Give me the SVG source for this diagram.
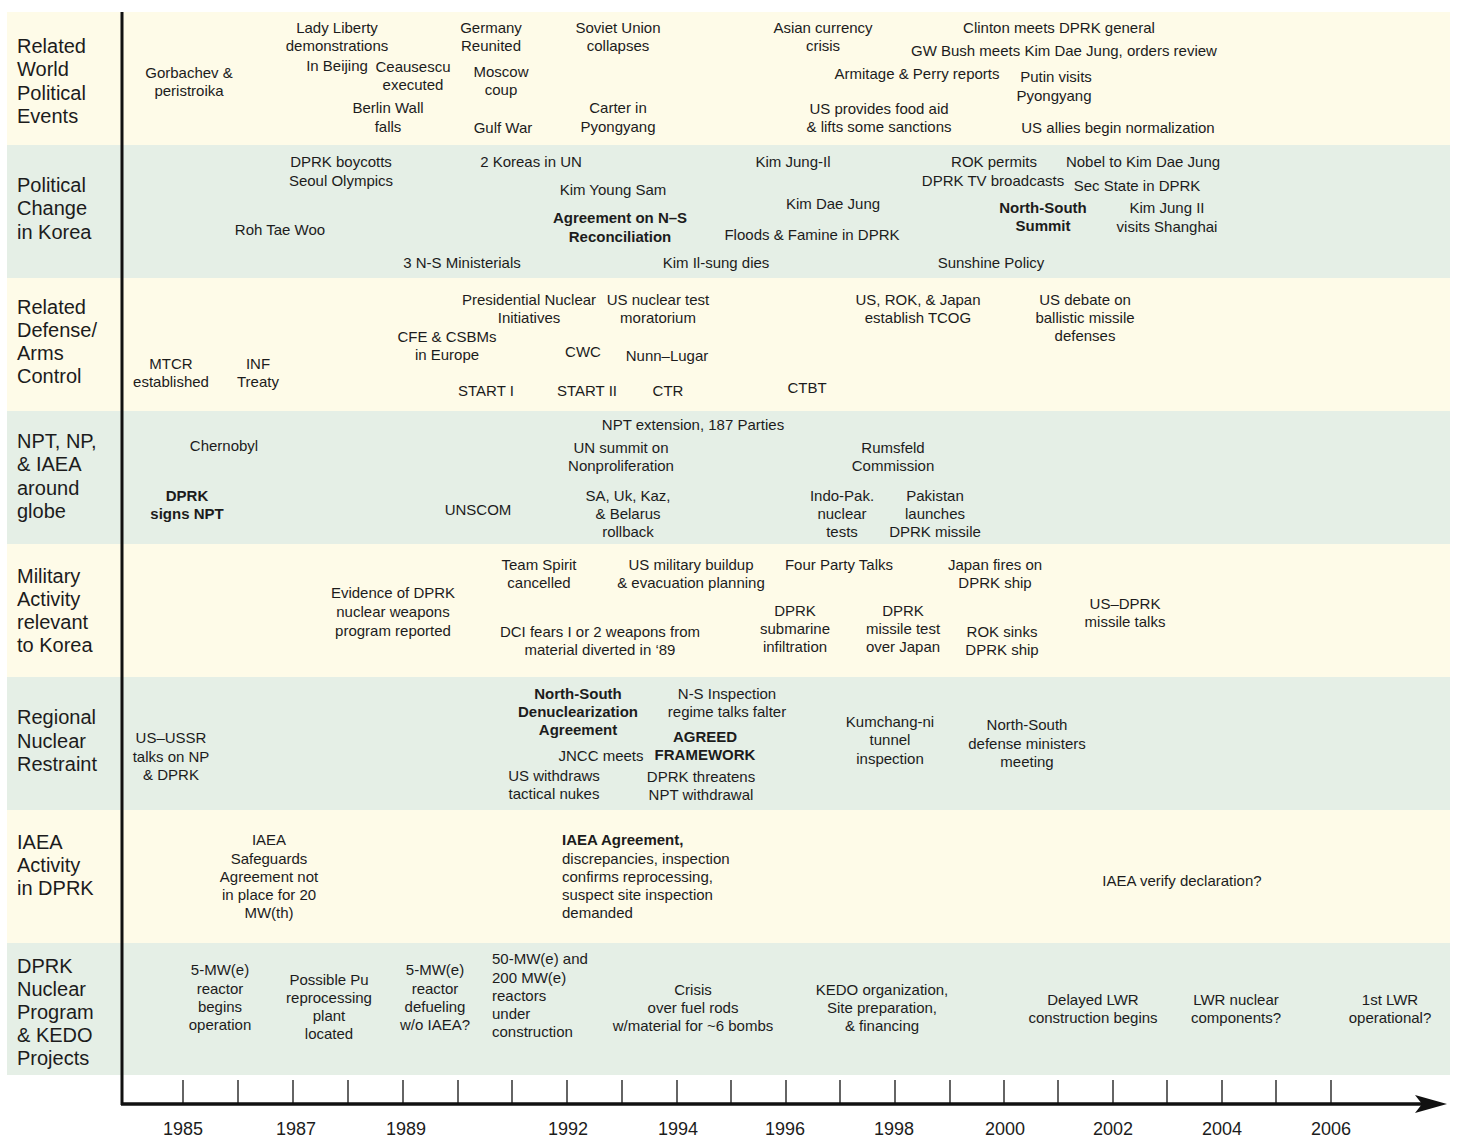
<svg xmlns="http://www.w3.org/2000/svg" width="1457" height="1137" viewBox="0 0 1457 1137">
<style>
text{font-family:"Liberation Sans",Arial,sans-serif;fill:#1c1c1c;}
.t{font-size:15px;text-anchor:middle;}
.l{font-size:15px;text-anchor:start;}
.b{font-weight:bold;}
.h{font-size:20px;text-anchor:start;}
.y{fill:#FEFBE8;}
.g{fill:#E5EFE6;}
.yr{font-size:18px;text-anchor:middle;}
</style>
<rect width="1457" height="1137" fill="#fff"/>
<g id="bands">
<rect class="y" x="7" y="12" width="1443" height="133"/>
<rect class="g" x="7" y="145" width="1443" height="133"/>
<rect class="y" x="7" y="278" width="1443" height="133"/>
<rect class="g" x="7" y="411" width="1443" height="133"/>
<rect class="y" x="7" y="544" width="1443" height="133"/>
<rect class="g" x="7" y="677" width="1443" height="133"/>
<rect class="y" x="7" y="810" width="1443" height="133"/>
<rect class="g" x="7" y="943" width="1443" height="132"/>
</g>
<g id="row-labels">
<text class="h"><tspan x="17" y="53">Related</tspan><tspan x="17" y="76">World</tspan><tspan x="17" y="100">Political</tspan><tspan x="17" y="123">Events</tspan></text>
<text class="h"><tspan x="17" y="192">Political</tspan><tspan x="17" y="215">Change</tspan><tspan x="17" y="239">in Korea</tspan></text>
<text class="h"><tspan x="17" y="314">Related</tspan><tspan x="17" y="337">Defense/</tspan><tspan x="17" y="360">Arms</tspan><tspan x="17" y="383">Control</tspan></text>
<text class="h"><tspan x="17" y="448">NPT, NP,</tspan><tspan x="17" y="471">&amp; IAEA</tspan><tspan x="17" y="495">around</tspan><tspan x="17" y="518">globe</tspan></text>
<text class="h"><tspan x="17" y="583">Military</tspan><tspan x="17" y="606">Activity</tspan><tspan x="17" y="629">relevant</tspan><tspan x="17" y="652">to Korea</tspan></text>
<text class="h"><tspan x="17" y="724">Regional</tspan><tspan x="17" y="748">Nuclear</tspan><tspan x="17" y="771">Restraint</tspan></text>
<text class="h"><tspan x="17" y="849">IAEA</tspan><tspan x="17" y="872">Activity</tspan><tspan x="17" y="895">in DPRK</tspan></text>
<text class="h"><tspan x="17" y="973">DPRK</tspan><tspan x="17" y="996">Nuclear</tspan><tspan x="17" y="1019">Program</tspan><tspan x="17" y="1042">&amp; KEDO</tspan><tspan x="17" y="1065">Projects</tspan></text>
</g>
<g id="world-events">
<g id="e-gorbachev"><text class="t"><tspan x="189" y="78">Gorbachev &amp;</tspan><tspan x="189" y="96">peristroika</tspan></text></g>
<g id="e-ladyliberty"><text class="t"><tspan x="337" y="33">Lady Liberty</tspan><tspan x="337" y="51">demonstrations</tspan><tspan x="337" y="71">In Beijing</tspan></text></g>
<g id="e-ceausescu"><text class="t"><tspan x="413" y="72">Ceausescu</tspan><tspan x="413" y="90">executed</tspan></text></g>
<g id="e-berlin"><text class="t"><tspan x="388" y="113">Berlin Wall</tspan><tspan x="388" y="132">falls</tspan></text></g>
<g id="e-germany"><text class="t"><tspan x="491" y="33">Germany</tspan><tspan x="491" y="51">Reunited</tspan></text></g>
<g id="e-moscow"><text class="t"><tspan x="501" y="77">Moscow</tspan><tspan x="501" y="95">coup</tspan></text></g>
<g id="e-gulf"><text class="t" x="503" y="133">Gulf War</text></g>
<g id="e-soviet"><text class="t"><tspan x="618" y="33">Soviet Union</tspan><tspan x="618" y="51">collapses</tspan></text></g>
<g id="e-carter"><text class="t"><tspan x="618" y="113">Carter in</tspan><tspan x="618" y="132">Pyongyang</tspan></text></g>
<g id="e-asian"><text class="t"><tspan x="823" y="33">Asian currency</tspan><tspan x="823" y="51">crisis</tspan></text></g>
<g id="e-armitage"><text class="t" x="917" y="79">Armitage &amp; Perry reports</text></g>
<g id="e-foodaid"><text class="t"><tspan x="879" y="114">US provides food aid</tspan><tspan x="879" y="132">&amp; lifts some sanctions</tspan></text></g>
<g id="e-clinton"><text class="t" x="1059" y="33">Clinton meets DPRK general</text></g>
<g id="e-gwbush"><text class="t" x="1064" y="56">GW Bush meets Kim Dae Jung, orders review</text></g>
<g id="e-putin"><text class="t"><tspan x="1056" y="82">Putin visits</tspan><tspan x="1054" y="101">Pyongyang</tspan></text></g>
<g id="e-allies"><text class="t" x="1118" y="133">US allies begin normalization</text></g>
</g>
<g id="korea-politics">
<g id="k-boycott"><text class="t"><tspan x="341" y="167">DPRK boycotts</tspan><tspan x="341" y="186">Seoul Olympics</tspan></text></g>
<g id="k-roh"><text class="t" x="280" y="235">Roh Tae Woo</text></g>
<g id="k-ministerials"><text class="t" x="462" y="268">3 N-S Ministerials</text></g>
<g id="k-un"><text class="t" x="531" y="167">2 Koreas in UN</text></g>
<g id="k-kys"><text class="t" x="613" y="195">Kim Young Sam</text></g>
<g id="k-reconciliation"><text class="t b"><tspan x="620" y="223">Agreement on N–S</tspan><tspan x="620" y="242">Reconciliation</tspan></text></g>
<g id="k-kis"><text class="t" x="716" y="268">Kim Il-sung dies</text></g>
<g id="k-kji"><text class="t" x="793" y="167">Kim Jung-Il</text></g>
<g id="k-kdj"><text class="t" x="833" y="209">Kim Dae Jung</text></g>
<g id="k-floods"><text class="t" x="812" y="240">Floods &amp; Famine in DPRK</text></g>
<g id="k-rok"><text class="t"><tspan x="994" y="167">ROK permits</tspan><tspan x="993" y="186">DPRK TV broadcasts</tspan></text></g>
<g id="k-summit"><text class="t b"><tspan x="1043" y="213">North-South</tspan><tspan x="1043" y="231">Summit</tspan></text></g>
<g id="k-sunshine"><text class="t" x="991" y="268">Sunshine Policy</text></g>
<g id="k-nobel"><text class="t" x="1143" y="167">Nobel to Kim Dae Jung</text></g>
<g id="k-secstate"><text class="t" x="1137" y="191">Sec State in DPRK</text></g>
<g id="k-shanghai"><text class="t"><tspan x="1167" y="213">Kim Jung II</tspan><tspan x="1167" y="232">visits Shanghai</tspan></text></g>
</g>
<g id="arms-control">
<g id="a-mtcr"><text class="t"><tspan x="171" y="369">MTCR</tspan><tspan x="171" y="387">established</tspan></text></g>
<g id="a-inf"><text class="t"><tspan x="258" y="369">INF</tspan><tspan x="258" y="387">Treaty</tspan></text></g>
<g id="a-cfe"><text class="t"><tspan x="447" y="342">CFE &amp;  CSBMs</tspan><tspan x="447" y="360">in Europe</tspan></text></g>
<g id="a-pni"><text class="t"><tspan x="529" y="305">Presidential Nuclear</tspan><tspan x="529" y="323">Initiatives</tspan></text></g>
<g id="a-moratorium"><text class="t"><tspan x="658" y="305">US nuclear test</tspan><tspan x="658" y="323">moratorium</tspan></text></g>
<g id="a-cwc"><text class="t" x="583" y="357">CWC</text></g>
<g id="a-nunn"><text class="t" x="667" y="361">Nunn–Lugar</text></g>
<g id="a-start1"><text class="t" x="486" y="396">START I</text></g>
<g id="a-start2"><text class="t" x="587" y="396">START II</text></g>
<g id="a-ctr"><text class="t" x="668" y="396">CTR</text></g>
<g id="a-ctbt"><text class="t" x="807" y="393">CTBT</text></g>
<g id="a-tcog"><text class="t"><tspan x="918" y="305">US, ROK, &amp; Japan</tspan><tspan x="918" y="323">establish TCOG</tspan></text></g>
<g id="a-bmd"><text class="t"><tspan x="1085" y="305">US debate on</tspan><tspan x="1085" y="323">ballistic missile</tspan><tspan x="1085" y="341">defenses</tspan></text></g>
</g>
<g id="npt">
<g id="n-chernobyl"><text class="t" x="224" y="451">Chernobyl</text></g>
<g id="n-signs"><text class="t b"><tspan x="187" y="501">DPRK</tspan><tspan x="187" y="519">signs NPT</tspan></text></g>
<g id="n-unscom"><text class="t" x="478" y="515">UNSCOM</text></g>
<g id="n-extension"><text class="t" x="693" y="430">NPT extension, 187 Parties</text></g>
<g id="n-summit"><text class="t"><tspan x="621" y="453">UN summit on</tspan><tspan x="621" y="471">Nonproliferation</tspan></text></g>
<g id="n-rollback"><text class="t"><tspan x="628" y="501">SA, Uk, Kaz,</tspan><tspan x="628" y="519">&amp;  Belarus</tspan><tspan x="628" y="537">rollback</tspan></text></g>
<g id="n-rumsfeld"><text class="t"><tspan x="893" y="453">Rumsfeld</tspan><tspan x="893" y="471">Commission</tspan></text></g>
<g id="n-indopak"><text class="t"><tspan x="842" y="501">Indo-Pak.</tspan><tspan x="842" y="519">nuclear</tspan><tspan x="842" y="537">tests</tspan></text></g>
<g id="n-pakistan"><text class="t"><tspan x="935" y="501">Pakistan</tspan><tspan x="935" y="519">launches</tspan><tspan x="935" y="537">DPRK missile</tspan></text></g>
</g>
<g id="military">
<g id="m-evidence"><text class="t"><tspan x="393" y="598">Evidence of DPRK</tspan><tspan x="393" y="617">nuclear weapons</tspan><tspan x="393" y="636">program reported</tspan></text></g>
<g id="m-teamspirit"><text class="t"><tspan x="539" y="570">Team Spirit</tspan><tspan x="539" y="588">cancelled</tspan></text></g>
<g id="m-buildup"><text class="t"><tspan x="691" y="570">US military buildup</tspan><tspan x="691" y="588">&amp; evacuation planning</tspan></text></g>
<g id="m-fourparty"><text class="t" x="839" y="570">Four Party Talks</text></g>
<g id="m-japanfires"><text class="t"><tspan x="995" y="570">Japan fires on</tspan><tspan x="995" y="588">DPRK ship</tspan></text></g>
<g id="m-dci"><text class="t"><tspan x="600" y="637">DCI fears I or 2 weapons from</tspan><tspan x="600" y="655">material diverted in ‘89</tspan></text></g>
<g id="m-submarine"><text class="t"><tspan x="795" y="616">DPRK</tspan><tspan x="795" y="634">submarine</tspan><tspan x="795" y="652">infiltration</tspan></text></g>
<g id="m-missiletest"><text class="t"><tspan x="903" y="616">DPRK</tspan><tspan x="903" y="634">missile test</tspan><tspan x="903" y="652">over Japan</tspan></text></g>
<g id="m-roksinks"><text class="t"><tspan x="1002" y="637">ROK sinks</tspan><tspan x="1002" y="655">DPRK ship</tspan></text></g>
<g id="m-missiletalks"><text class="t"><tspan x="1125" y="609">US–DPRK</tspan><tspan x="1125" y="627">missile talks</tspan></text></g>
</g>
<g id="restraint">
<g id="r-usussr"><text class="t"><tspan x="171" y="743">US–USSR</tspan><tspan x="171" y="762">talks on NP</tspan><tspan x="171" y="780">&amp; DPRK</tspan></text></g>
<g id="r-denuc"><text class="t b"><tspan x="578" y="699">North-South</tspan><tspan x="578" y="717">Denuclearization</tspan><tspan x="578" y="735">Agreement</tspan></text></g>
<g id="r-inspection"><text class="t"><tspan x="727" y="699">N-S Inspection</tspan><tspan x="727" y="717">regime talks falter</tspan></text></g>
<g id="r-agreed"><text class="t b"><tspan x="705" y="742">AGREED</tspan><tspan x="705" y="760">FRAMEWORK</tspan></text></g>
<g id="r-jncc"><text class="t" x="601" y="761">JNCC meets</text></g>
<g id="r-withdraws"><text class="t"><tspan x="554" y="781">US withdraws</tspan><tspan x="554" y="799">tactical nukes</tspan></text></g>
<g id="r-threatens"><text class="t"><tspan x="701" y="782">DPRK threatens</tspan><tspan x="701" y="800">NPT withdrawal</tspan></text></g>
<g id="r-kumchang"><text class="t"><tspan x="890" y="727">Kumchang-ni</tspan><tspan x="890" y="745">tunnel</tspan><tspan x="890" y="764">inspection</tspan></text></g>
<g id="r-ministers"><text class="t"><tspan x="1027" y="730">North-South</tspan><tspan x="1027" y="749">defense ministers</tspan><tspan x="1027" y="767">meeting</tspan></text></g>
</g>
<g id="iaea">
<g id="i-safeguards"><text class="t"><tspan x="269" y="845">IAEA</tspan><tspan x="269" y="864">Safeguards</tspan><tspan x="269" y="882">Agreement not</tspan><tspan x="269" y="900">in place for 20</tspan><tspan x="269" y="918">MW(th)</tspan></text></g>
<g id="i-agreement"><text class="l"><tspan x="562" y="845" class="b">IAEA Agreement,</tspan><tspan x="562" y="864">discrepancies, inspection</tspan><tspan x="562" y="882">confirms reprocessing,</tspan><tspan x="562" y="900">suspect site inspection</tspan><tspan x="562" y="918">demanded</tspan></text></g>
<g id="i-verify"><text class="t" x="1182" y="886">IAEA verify declaration?</text></g>
</g>
<g id="program">
<g id="p-reactor"><text class="t"><tspan x="220" y="975">5-MW(e)</tspan><tspan x="220" y="994">reactor</tspan><tspan x="220" y="1012">begins</tspan><tspan x="220" y="1030">operation</tspan></text></g>
<g id="p-pu"><text class="t"><tspan x="329" y="985">Possible Pu</tspan><tspan x="329" y="1003">reprocessing</tspan><tspan x="329" y="1021">plant</tspan><tspan x="329" y="1039">located</tspan></text></g>
<g id="p-defuel"><text class="t"><tspan x="435" y="975">5-MW(e)</tspan><tspan x="435" y="994">reactor</tspan><tspan x="435" y="1012">defueling</tspan><tspan x="435" y="1030">w/o IAEA?</tspan></text></g>
<g id="p-50mw"><text class="l"><tspan x="492" y="964">50-MW(e) and</tspan><tspan x="492" y="983">200 MW(e)</tspan><tspan x="492" y="1001">reactors</tspan><tspan x="492" y="1019">under</tspan><tspan x="492" y="1037">construction</tspan></text></g>
<g id="p-crisis"><text class="t"><tspan x="693" y="995">Crisis</tspan><tspan x="693" y="1013">over fuel rods</tspan><tspan x="693" y="1031">w/material for ~6 bombs</tspan></text></g>
<g id="p-kedo"><text class="t"><tspan x="882" y="995">KEDO organization,</tspan><tspan x="882" y="1013">Site preparation,</tspan><tspan x="882" y="1031">&amp; financing</tspan></text></g>
<g id="p-lwr"><text class="t"><tspan x="1093" y="1005">Delayed LWR</tspan><tspan x="1093" y="1023">construction begins</tspan></text></g>
<g id="p-components"><text class="t"><tspan x="1236" y="1005">LWR nuclear</tspan><tspan x="1236" y="1023">components?</tspan></text></g>
<g id="p-operational"><text class="t"><tspan x="1390" y="1005">1st LWR</tspan><tspan x="1390" y="1023">operational?</tspan></text></g>
</g>
<g id="connectors" stroke="#111" fill="none">
<line x1="122" y1="12" x2="122" y2="1105" stroke-width="3"/>
<line x1="121" y1="1104" x2="1425" y2="1104" stroke-width="3.5"/>
<path d="M1415 1095 L1447 1104 L1415 1113 L1422 1104 Z" fill="#111" stroke="none"/>
<g stroke-width="1.3">
<line x1="183" y1="1080" x2="183" y2="1103"/><line x1="238" y1="1080" x2="238" y2="1103"/>
<line x1="293" y1="1080" x2="293" y2="1103"/><line x1="348" y1="1080" x2="348" y2="1103"/>
<line x1="403" y1="1080" x2="403" y2="1103"/><line x1="458" y1="1080" x2="458" y2="1103"/>
<line x1="512" y1="1080" x2="512" y2="1103"/><line x1="567" y1="1080" x2="567" y2="1103"/>
<line x1="622" y1="1080" x2="622" y2="1103"/><line x1="677" y1="1080" x2="677" y2="1103"/>
<line x1="731" y1="1080" x2="731" y2="1103"/><line x1="786" y1="1080" x2="786" y2="1103"/>
<line x1="840" y1="1080" x2="840" y2="1103"/><line x1="895" y1="1080" x2="895" y2="1103"/>
<line x1="950" y1="1080" x2="950" y2="1103"/><line x1="1004" y1="1080" x2="1004" y2="1103"/>
<line x1="1058" y1="1080" x2="1058" y2="1103"/><line x1="1113" y1="1080" x2="1113" y2="1103"/>
<line x1="1167" y1="1080" x2="1167" y2="1103"/><line x1="1222" y1="1080" x2="1222" y2="1103"/>
<line x1="1276" y1="1080" x2="1276" y2="1103"/><line x1="1331" y1="1080" x2="1331" y2="1103"/>
</g>
</g>
<g id="years">
<text class="yr" x="183" y="1135">1985</text>
<text class="yr" x="296" y="1135">1987</text>
<text class="yr" x="406" y="1135">1989</text>
<text class="yr" x="568" y="1135">1992</text>
<text class="yr" x="678" y="1135">1994</text>
<text class="yr" x="785" y="1135">1996</text>
<text class="yr" x="894" y="1135">1998</text>
<text class="yr" x="1005" y="1135">2000</text>
<text class="yr" x="1113" y="1135">2002</text>
<text class="yr" x="1222" y="1135">2004</text>
<text class="yr" x="1331" y="1135">2006</text>
</g>
</svg>
